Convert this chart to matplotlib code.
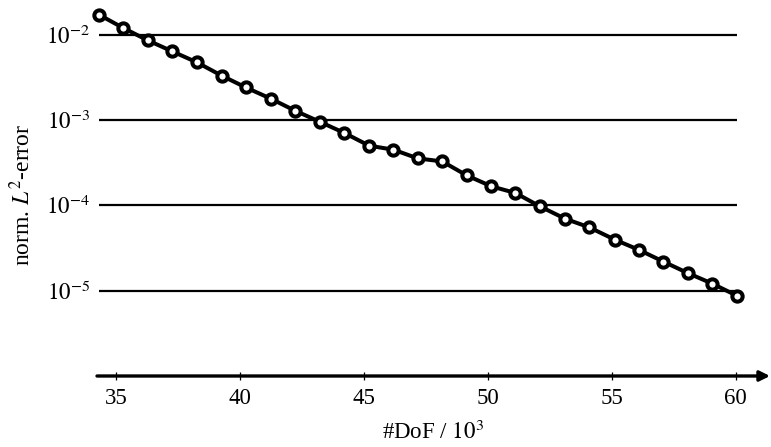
import numpy as np
import matplotlib
matplotlib.use("Agg")
import matplotlib.pyplot as plt

plt.rcParams['font.family'] = ['Liberation Serif', 'DejaVu Serif']
plt.rcParams['mathtext.fontset'] = 'stix'

dof = [34.31, 35.29, 36.28, 37.27, 38.26, 39.26, 40.23, 41.24, 42.22, 43.21,
       44.21, 45.21, 46.19, 47.17, 48.16, 49.15, 50.14, 51.11, 52.10, 53.11,
       54.09, 55.12, 56.08, 57.08, 58.06, 59.05, 60.04]
err = [1.715e-2, 1.198e-2, 8.58e-3, 6.37e-3, 4.74e-3, 3.31e-3, 2.41e-3, 1.78e-3,
       1.286e-3, 9.56e-4, 7.05e-4, 5.0e-4, 4.49e-4, 3.55e-4, 3.27e-4, 2.24e-4,
       1.67e-4, 1.396e-4, 9.72e-5, 6.98e-5, 5.52e-5, 3.96e-5, 3.02e-5, 2.19e-5,
       1.61e-5, 1.21e-5, 8.74e-6]
grid_levels = [1e-2, 1e-3, 1e-4, 1e-5]
xticks = [35, 40, 45, 50, 55, 60]

W, H = 771, 447
fig = plt.figure(figsize=(W / 100, H / 100), dpi=100)
left_px, right_px, top_px, bot_px = 97, 770, 9.1, 376
ax = fig.add_axes([left_px / W, 1 - bot_px / H, (right_px - left_px) / W, (bot_px - top_px) / H])

ax.set_yscale('log')
ax.set_xlim(34.23, 61.38)
ax.set_ylim(1e-6, 10 ** -1.7)

ax.hlines(grid_levels, dof[0], dof[-1], colors='black', linewidth=1.6, zorder=1)
ax.plot(dof, err, color='black', linewidth=2.9, marker='o', markersize=7.4,
        markerfacecolor='white', markeredgecolor='black', markeredgewidth=2.9,
        zorder=3, clip_on=False)

for s in ['top', 'right', 'left', 'bottom']:
    ax.spines[s].set_visible(False)

ax.annotate('', xy=(1.0, 0), xycoords='axes fraction', xytext=(0.0, 0),
            textcoords='axes fraction',
            arrowprops=dict(arrowstyle='-|>,head_length=0.6,head_width=0.3',
                            color='black', lw=2.4, shrinkA=0, shrinkB=0),
            annotation_clip=False)

ax.set_xticks(xticks)
ax.set_xticklabels([str(t) for t in xticks])
ax.tick_params(axis='x', direction='inout', length=6, width=0.9, pad=5.5,
               labelsize=16.5, color='black')
ax.set_yticks(grid_levels)
ax.set_yticklabels([r'$10^{-2}$', r'$10^{-3}$', r'$10^{-4}$', r'$10^{-5}$'])
ax.yaxis.set_minor_locator(matplotlib.ticker.NullLocator())
ax.tick_params(axis='y', length=0, pad=5, labelsize=16.5)

fig.text(433 / W, 1 - 432 / H, r'#DoF / $10^3$', ha='center', va='center', fontsize=16.5)
fig.text(22 / W, 1 - 195 / H, r'norm. $L^2$-error', ha='center', va='center',
         rotation=90, fontsize=17)

fig.savefig('out.png', dpi=100)
